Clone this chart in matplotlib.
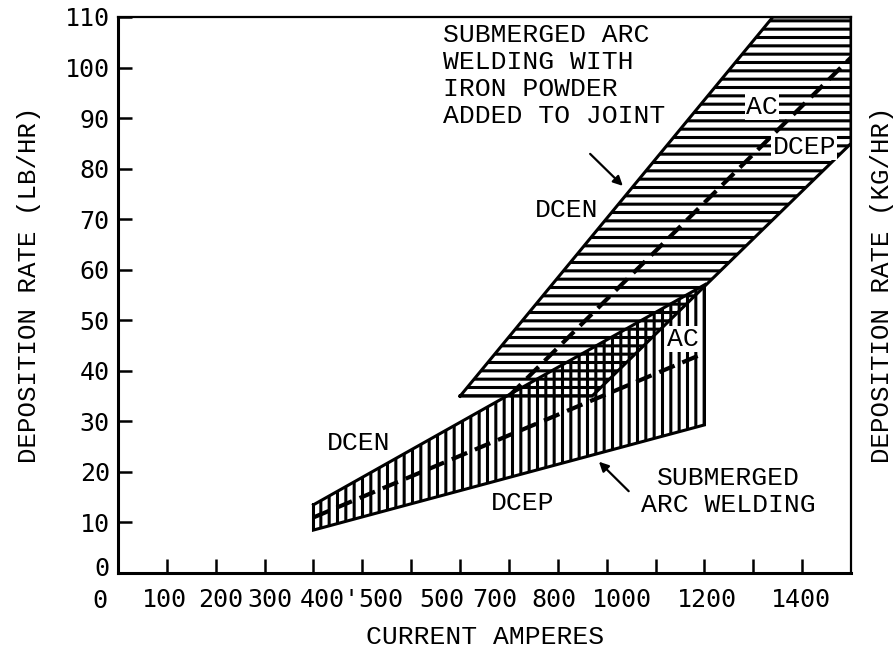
import matplotlib
matplotlib.use("Agg")
import matplotlib.pyplot as plt
import matplotlib.transforms as mtransforms

# ---- data ----
# submerged arc welding with iron powder (upper band)
iron_x = [700, 970, 1500, 1500, 1340, 700]
iron_y = [35, 35, 85, 110, 110, 35]
iron_ac_x = [800, 1500]
iron_ac_y = [35, 102]

# plain submerged arc welding (lower band)
saw_x = [400, 1200, 1200, 400, 400]
saw_y = [13.5, 57, 29.3, 8.5, 13.5]
saw_ac_x = [400, 1200]
saw_ac_y = [11, 43.5]

x_ticks = [100, 200, 300, 400, 500, 600, 700, 800, 900, 1000, 1100, 1200, 1300, 1400]
x_label_pos = [96, 209, 311, 434, 538, 663, 771, 892, 1031, 1205, 1398]
x_label_txt = ["100", "200", "300", "400'", "500", "500", "700", "800", "1000", "1200", "1400"]
y_ticks = [0, 10, 20, 30, 40, 50, 60, 70, 80, 90, 100, 110]

plt.rcParams["hatch.linewidth"] = 2.2
mono = "Liberation Mono"
nums = "DejaVu Sans Mono"
fs = 19

fig = plt.figure(figsize=(8.94, 6.53), dpi=100)
ax = fig.add_axes([0.132, 0.1225, 0.820, 0.8515])
ax.set_xlim(0, 1500)
ax.set_ylim(0, 110)

# hatched bands
ax.fill(saw_x, saw_y, fill=False, hatch="||", edgecolor="black", linewidth=0)
ax.fill(iron_x, iron_y, fill=False, hatch="--", edgecolor="black", linewidth=0)
ax.plot(saw_x, saw_y, color="black", lw=2.2, solid_joinstyle="miter")
ax.plot(iron_x, iron_y, color="black", lw=2.2, solid_joinstyle="miter")
ax.plot(saw_ac_x, saw_ac_y, color="black", lw=3, dashes=(4, 2))
ax.plot(iron_ac_x, iron_ac_y, color="black", lw=3, dashes=(4, 2))

# labels on the bands
box = dict(facecolor="white", edgecolor="none", pad=1)
ax.text(665, 108.8, "SUBMERGED ARC\nWELDING WITH\nIRON POWDER\nADDED TO JOINT",
        ha="left", va="top", fontsize=fs, family=mono, linespacing=1.15)
ax.annotate("", xy=(1037, 76.2), xytext=(962, 83.3),
            arrowprops=dict(arrowstyle="-|>", color="black", lw=1.6, mutation_scale=14))
ax.text(917, 71.8, "DCEN", ha="center", va="center", fontsize=fs, family=mono)
ax.text(1318, 92.2, "AC", ha="center", va="center", fontsize=fs, family=mono, bbox=box)
ax.text(1404, 84.3, "DCEP", ha="center", va="center", fontsize=fs, family=mono, bbox=box)
ax.text(1156, 46.3, "AC", ha="center", va="center", fontsize=fs, family=mono, bbox=box)
ax.text(493, 25.7, "DCEN", ha="center", va="center", fontsize=fs, family=mono)
ax.text(827, 13.8, "DCEP", ha="center", va="center", fontsize=fs, family=mono)
ax.text(1249, 16.2, "SUBMERGED\nARC WELDING", ha="center", va="center",
        fontsize=fs, family=mono, linespacing=1.15)
ax.annotate("", xy=(980, 22.4), xytext=(1049, 15.8),
            arrowprops=dict(arrowstyle="-|>", color="black", lw=1.6, mutation_scale=14))

# axes styling
for side in ["left", "bottom"]:
    ax.spines[side].set_linewidth(2.2)
for side in ["top", "right"]:
    ax.spines[side].set_linewidth(1.6)

ax.set_yticks(y_ticks)
ax.set_yticklabels([str(v) for v in y_ticks], family=nums, fontsize=18)
ax.tick_params(axis="y", direction="in", length=10, width=1.8, pad=6)
ax.tick_params(axis="y", which="both", right=False)
# the y-axis "0" sits a little above the corner in the original
lab0 = ax.get_yticklabels()[0]
lab0.set_transform(lab0.get_transform() + mtransforms.ScaledTranslation(0, 5 / 72, fig.dpi_scale_trans))

ax.set_xticks(x_ticks, minor=True)
ax.set_xticks(x_label_pos)
ax.set_xticklabels(x_label_txt, family=nums, fontsize=18)
ax.tick_params(axis="x", which="major", length=0, pad=11)
ax.tick_params(axis="x", which="minor", direction="in", length=10, width=1.8)
ax.text(-37, -0.028, "0", transform=ax.get_xaxis_transform(), ha="center", va="top",
        fontsize=18, family=nums)

fig.text(0.5425, 0.0245, "CURRENT AMPERES", ha="center", va="center", fontsize=fs, family=mono)
fig.text(0.032, 0.564, "DEPOSITION RATE (LB/HR)", ha="center", va="center",
         rotation=90, fontsize=18.5, family=mono)
fig.text(0.987, 0.564, "DEPOSITION RATE (KG/HR)", ha="center", va="center",
         rotation=90, fontsize=18.5, family=mono)

fig.savefig("out.png", dpi=100)
